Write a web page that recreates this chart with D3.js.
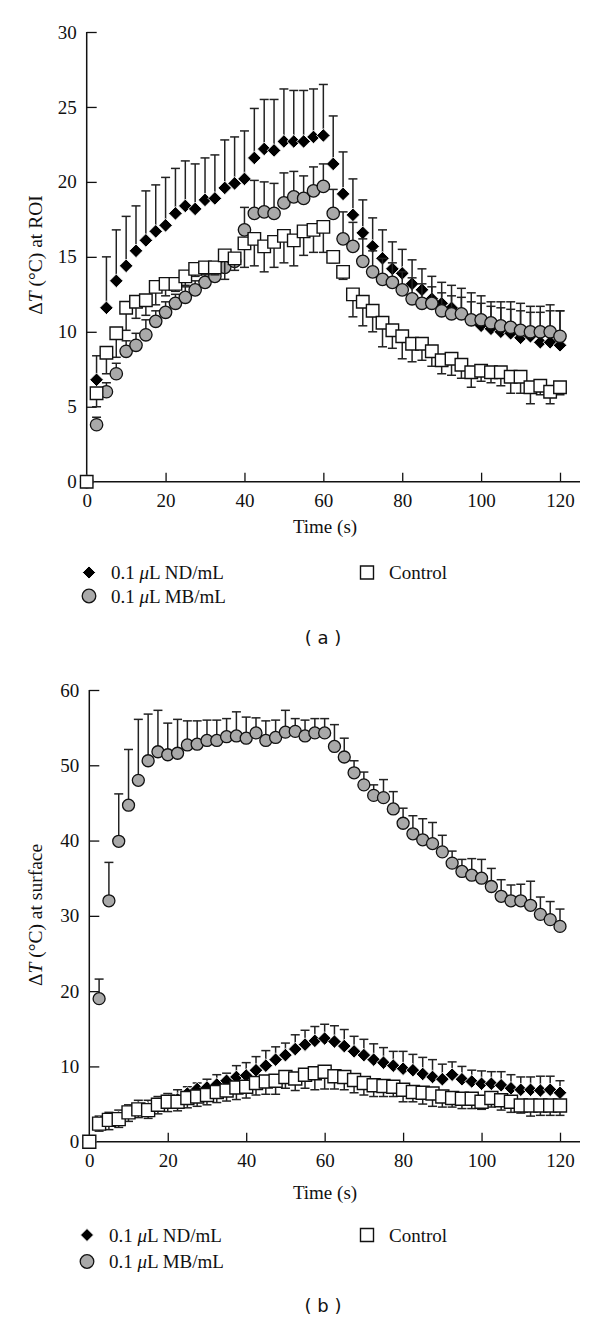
<!DOCTYPE html>
<html><head><meta charset="utf-8">
<script src="https://cdn.jsdelivr.net/npm/d3@7"></script>
<style>body{margin:0;background:#fff}svg{display:block}</style>
</head><body>
<svg id="chart" width="600" height="1323"></svg>
<script>
const times = [0,2.5,5,7.5,10,12.5,15,17.5,20,22.5,25,27.5,30,32.5,35,37.5,40,42.5,45,47.5,50,52.5,55,57.5,60,62.5,65,67.5,70,72.5,75,77.5,80,82.5,85,87.5,90,92.5,95,97.5,100,102.5,105,107.5,110,112.5,115,117.5,120];
const xTicks = [0,20,40,60,80,100,120];
const yTicksA = [0,5,10,15,20,25,30];
const yTicksB = [0,10,20,30,40,50,60];
const seriesNames = ["0.1 \u03bcL ND/mL","0.1 \u03bcL MB/mL","Control"];

// Panel (a): ΔT at ROI
const ndA = [0,6.8,11.6,13.4,14.4,15.4,16.1,16.7,17.1,17.9,18.4,18.2,18.8,18.9,19.6,19.9,20.2,21.6,22.2,22.1,22.7,22.7,22.7,23.0,23.1,21.2,19.2,17.8,16.6,15.7,14.9,14.2,13.9,13.2,12.8,12.2,11.9,11.6,11.2,10.8,10.4,10.2,10.0,9.9,9.6,9.7,9.3,9.3,9.1];
const ndAUp = [0,8.4,15.0,16.8,17.7,18.4,19.4,19.8,20.3,20.9,21.4,21.2,21.6,21.8,22.8,23.0,23.4,24.9,25.5,25.5,26.2,26.1,26.1,26.2,26.5,24.4,22.0,20.2,18.8,17.6,16.8,16.0,15.5,14.8,14.2,13.7,13.3,13.1,12.9,12.6,12.4,12.0,12.0,12.0,11.9,11.7,11.7,11.8,11.4];
const mbA = [0,3.8,6.0,7.2,8.7,9.1,9.8,10.7,11.3,11.9,12.3,12.8,13.3,13.7,14.3,14.7,16.8,17.9,18.0,17.9,18.6,19.0,18.9,19.4,19.7,17.9,16.2,15.7,14.7,14.0,13.5,13.3,12.8,12.2,11.9,11.9,11.4,11.2,11.2,10.8,10.8,10.6,10.4,10.3,10.1,10.0,10.0,10.0,9.7];
const mbAUp = [0,4.3,6.6,7.9,9.4,9.9,10.8,11.4,12.0,12.5,13.0,13.4,13.8,14.1,14.6,15.0,18.3,20.1,20.0,19.9,20.6,20.7,20.4,21.0,21.2,19.5,18.0,17.3,16.2,15.4,14.9,14.6,14.0,13.6,13.2,13.0,12.6,12.4,12.3,12.0,11.9,11.7,11.6,11.5,11.4,11.3,11.3,11.4,11.4];
const ctA = [0,5.9,8.6,9.9,11.6,12.0,12.1,13.0,13.2,13.2,13.7,14.2,14.3,14.3,15.1,14.9,15.9,16.2,15.7,16.0,16.4,16.1,16.7,16.8,17.0,15.0,14.0,12.5,12.0,11.4,10.6,10.1,9.7,9.2,9.2,8.7,8.1,8.2,7.8,7.3,7.4,7.3,7.3,7.0,7.0,6.3,6.4,6.0,6.3];
const ctALow = [0,5.0,7.2,8.3,10.1,10.9,11.1,11.8,12.4,12.7,13.1,13.7,13.9,13.8,13.5,14.1,14.3,14.4,14.0,14.3,14.6,14.4,15.1,15.3,15.3,14.6,13.5,11.0,10.4,10.0,9.0,8.9,8.2,8.0,8.1,7.7,7.2,7.1,6.9,6.3,6.7,6.6,6.4,5.9,5.9,5.2,5.8,5.2,5.8];

// Panel (b): ΔT at surface
const ndB = [0,2.5,2.9,3.2,3.9,4.4,4.4,5.0,5.4,5.6,6.4,7.0,7.2,7.6,8.1,8.6,8.8,9.5,10.1,10.9,11.5,12.3,12.9,13.4,13.7,13.3,12.7,12.0,11.5,10.9,10.5,10.1,9.7,9.5,9.0,8.6,8.3,8.9,8.3,8.0,7.7,7.7,7.5,7.1,6.9,6.9,6.8,6.9,6.5];
const ndBUp = [0,3.4,3.9,4.2,4.9,5.5,5.5,6.0,6.4,6.9,7.3,7.8,8.3,8.9,9.1,10.1,10.5,11.3,12.1,12.6,13.1,14.2,14.8,15.3,15.6,15.4,14.9,14.0,13.6,13.0,12.5,12.0,12.0,11.6,11.2,10.9,10.3,10.6,10.0,9.5,9.4,9.3,9.3,8.9,8.6,8.6,8.7,8.7,8.1];
const mbB = [0,19.0,32.0,39.9,44.7,48.0,50.6,51.8,51.4,51.6,52.7,52.8,53.3,53.3,53.8,53.9,53.6,54.3,53.3,53.7,54.4,54.5,53.9,54.3,54.3,52.5,51.1,49.0,47.4,46.0,45.7,44.2,42.3,40.9,40.1,39.6,38.5,37.0,35.9,35.4,35.0,33.9,32.6,32.0,32.0,31.4,30.2,29.5,28.6];
const mbBUp = [0,21.6,37.1,46.2,52.1,56.1,56.8,57.3,55.6,56.1,55.9,55.9,56.0,56.0,56.2,57.1,56.4,56.3,55.9,56.0,57.3,56.2,56.0,56.2,56.2,55.4,53.6,50.6,49.1,47.4,48.1,46.5,44.3,43.3,42.9,42.4,40.7,38.6,37.5,37.6,37.5,36.3,34.8,34.1,34.2,34.6,32.5,31.9,30.9];
const ctB = [0,2.4,2.9,3.0,3.9,4.3,4.2,4.9,5.3,5.3,5.8,6.0,6.2,6.6,6.8,7.2,7.3,7.8,8.0,8.1,8.6,8.4,8.9,9.1,9.3,8.7,8.6,8.2,7.8,7.5,7.4,7.3,6.9,6.6,6.5,6.4,6.0,5.8,5.7,5.7,5.3,5.8,5.5,5.3,4.8,4.8,4.8,4.8,4.8];
const ctBLow = [0,1.4,1.6,1.9,2.7,3.2,3.1,3.7,4.0,4.1,4.5,4.7,4.9,5.2,5.4,5.6,5.8,6.2,6.3,6.3,7.1,6.8,7.1,6.9,7.0,7.0,6.9,6.5,6.2,6.0,6.0,6.0,5.3,5.3,5.0,4.7,4.6,4.6,4.4,4.4,4.3,4.6,4.2,3.9,3.8,3.4,3.5,3.5,3.5];

const svg = d3.select("#chart");
const SERIF = "'Liberation Serif','Times New Roman',serif";

function diamondPath(h){return `M0,${-h}L${h},0L0,${h}L${-h},0Z`;}
function squarePath(s){const h=s/2;return `M${-h},${-h}H${h}V${h}H${-h}Z`;}

function drawMarker(g, kind, size){
  if(kind==="nd"){
    g.append("path").attr("d",diamondPath(size.d)).attr("fill","#000").attr("stroke","#fff").attr("stroke-width",0.9);
  } else if(kind==="mb"){
    g.append("circle").attr("r",size.r).attr("fill","#a9a9a9").attr("stroke","#111").attr("stroke-width",1.3);
  } else {
    g.append("path").attr("d",squarePath(size.s)).attr("fill","#fff").attr("stroke","#111").attr("stroke-width",1.4);
  }
}

function panel(cfg){
  const x = d3.scaleLinear().domain([0,120]).range([cfg.x0, 560]);
  const y = d3.scaleLinear().domain([0,cfg.ymax]).range([cfg.yBottom, cfg.yTop]);
  const g = svg.append("g");

  // axes
  const xa = g.append("g").attr("transform",`translate(0,${cfg.yBottom})`)
    .call(d3.axisBottom(x).tickValues(xTicks).tickSizeInner(-9).tickSizeOuter(0).tickPadding(12));
  xa.select(".domain").remove();
  xa.selectAll(".tick line").attr("stroke","#111").attr("stroke-width",1.3);
  xa.selectAll(".tick").filter(d=>d===0).select("line").remove();
  xa.selectAll("text").attr("font-family",SERIF).attr("font-size",19).attr("fill","#111");
  g.append("line").attr("x1",cfg.x0).attr("x2",580).attr("y1",cfg.yBottom).attr("y2",cfg.yBottom).attr("stroke","#111").attr("stroke-width",1.5);

  const ya = g.append("g").attr("transform",`translate(${cfg.x0},0)`)
    .call(d3.axisLeft(y).tickValues(cfg.yTicks).tickSizeInner(-10).tickSizeOuter(0).tickPadding(10));
  ya.select(".domain").remove();
  ya.selectAll(".tick line").attr("stroke","#111").attr("stroke-width",1.3);
  ya.selectAll(".tick").filter(d=>d===0).select("line").remove();
  ya.selectAll("text").attr("font-family",SERIF).attr("font-size",19).attr("fill","#111");
  g.append("line").attr("x1",cfg.x0).attr("x2",cfg.x0).attr("y1",cfg.yBottom).attr("y2",cfg.yTop).attr("stroke","#111").attr("stroke-width",1.5);

  // axis titles
  g.append("text").attr("x",325).attr("y",cfg.timeY).attr("text-anchor","middle")
    .attr("font-family",SERIF).attr("font-size",19).attr("fill","#111").text("Time (s)");
  const yl = g.append("text").attr("transform",`translate(42,${cfg.labelY}) rotate(-90)`)
    .attr("text-anchor","middle").attr("font-family",SERIF).attr("font-size",19.5).attr("fill","#111");
  yl.append("tspan").text("\u0394");
  yl.append("tspan").attr("font-style","italic").text("T");
  yl.append("tspan").text(" (\u00b0C) " + cfg.ylabel);

  const series = [
    {kind:"nd", v:cfg.nd, e:cfg.ndUp},
    {kind:"mb", v:cfg.mb, e:cfg.mbUp},
    {kind:"ct", v:cfg.ct, e:cfg.ctLow}
  ];
  const cap = 4.5;
  series.forEach(s=>{
    const sg = g.append("g");
    const pts = times.map((t,i)=>({t, v:s.v[i], e:s.e[i]}));
    const eb = sg.selectAll("g.eb").data(pts.filter(p=>Math.abs(p.e-p.v)>0.05)).join("g");
    eb.append("line").attr("x1",p=>x(p.t)).attr("x2",p=>x(p.t)).attr("y1",p=>y(p.v)).attr("y2",p=>y(p.e))
      .attr("stroke","#222").attr("stroke-width",1.5);
    eb.append("line").attr("x1",p=>x(p.t)-cap).attr("x2",p=>x(p.t)+cap).attr("y1",p=>y(p.e)).attr("y2",p=>y(p.e))
      .attr("stroke","#222").attr("stroke-width",1.5);
    sg.selectAll("g.mk").data(pts).join("g").attr("transform",p=>`translate(${x(p.t)},${y(p.v)})`)
      .each(function(){drawMarker(d3.select(this), s.kind, cfg.msize);});
  });

  // legend
  const lg = g.append("g");
  const items = [
    {kind:"nd", name:seriesNames[0], x:cfg.legX1, y:cfg.legY1},
    {kind:"mb", name:seriesNames[1], x:cfg.legX1, y:cfg.legY1+cfg.legDY},
    {kind:"ct", name:seriesNames[2], x:cfg.legX2, y:cfg.legY1}
  ];
  items.forEach(it=>{
    const mg = lg.append("g").attr("transform",`translate(${it.x},${it.y})`);
    drawMarker(mg, it.kind, {d:6.5, r:6.8, s:13});
    const tx = lg.append("text").attr("x",it.x+22).attr("y",it.y).attr("dy","0.35em")
      .attr("font-family",SERIF).attr("font-size",19).attr("fill","#111");
    if(it.kind==="ct"){ tx.text(it.name); }
    else {
      const parts = it.name.split("\u03bc");
      tx.append("tspan").text(parts[0]);
      tx.append("tspan").attr("font-style","italic").text("\u03bc");
      tx.append("tspan").text(parts[1]);
    }
  });

  g.append("text").attr("x",323).attr("y",cfg.capY).attr("dy","0.35em").attr("text-anchor","middle")
    .attr("font-family","'DejaVu Sans',sans-serif").attr("font-size",18).attr("fill","#111").text(cfg.caption);
}

panel({x0:86.7, yBottom:481.7, yTop:32, ymax:30, yTicks:yTicksA, ylabel:"at ROI", labelY:255,
  timeY:533, nd:ndA, ndUp:ndAUp, mb:mbA, mbUp:mbAUp, ct:ctA, ctLow:ctALow,
  msize:{d:6.8, r:6.2, s:12.5},
  legX1:89, legX2:367, legY1:572.5, legDY:23.5, capY:638, caption:"( a )"});

panel({x0:89.3, yBottom:1141.7, yTop:690, ymax:60, yTicks:yTicksB, ylabel:"at surface", labelY:915,
  timeY:1199, nd:ndB, ndUp:ndBUp, mb:mbB, mbUp:mbBUp, ct:ctB, ctLow:ctBLow,
  msize:{d:6.8, r:6.0, s:13},
  legX1:87, legX2:367, legY1:1235, legDY:26.5, capY:1306, caption:"( b )"});
</script>
</body></html>
